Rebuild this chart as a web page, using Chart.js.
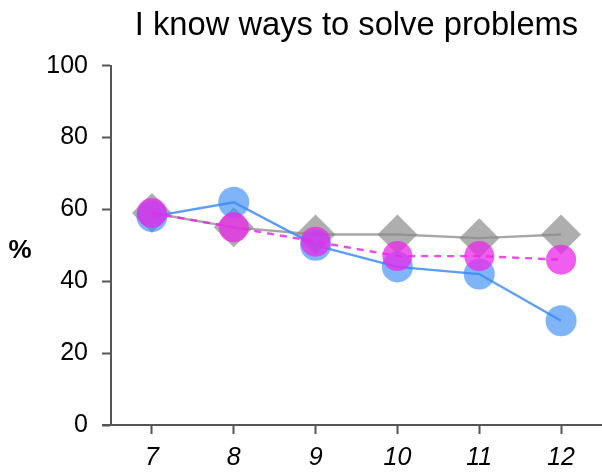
<!DOCTYPE html>
<html>
<head>
<meta charset="utf-8">
<script src="https://cdn.jsdelivr.net/npm/chart.js@4/dist/chart.umd.min.js"></script>
<style>
  html, body { margin: 0; padding: 0; background: #fff; overflow: hidden; }
  #wrap { width: 602px; height: 472px; position: relative; }
  canvas { display: block; }
</style>
</head>
<body>
<div id="wrap"><canvas id="c"></canvas></div>
<script>
const categories = ['7', '8', '9', '10', '11', '12'];
const blueValues = [58, 62, 50, 44, 42, 29];
const greyValues = [59, 55, 53, 53, 52, 53];
const magentaValues = [59, 55, 51, 47, 47, 46];
const yTicks = [0, 20, 40, 60, 80, 100];
const chartTitle = 'I know ways to solve problems';
const yLabel = '%';

const FONT = '"Liberation Sans", Arial, Helvetica, sans-serif';
const AXIS = '#555555';

const extras = {
  id: 'extras',
  afterDraw(chart) {
    const ctx = chart.ctx;
    const a = chart.chartArea;
    ctx.save();
    ctx.strokeStyle = AXIS;
    ctx.lineWidth = 2;
    ctx.beginPath();
    ctx.moveTo(a.left - 9, a.bottom);
    ctx.lineTo(a.left, a.bottom);
    ctx.stroke();
    ctx.fillStyle = '#000';
    ctx.font = 'bold 26px ' + FONT;
    ctx.textAlign = 'center';
    ctx.textBaseline = 'middle';
    ctx.fillText(yLabel, 20, 251);
    ctx.restore();
  }
};

new Chart(document.getElementById('c'), {
  type: 'line',
  data: {
    labels: categories,
    datasets: [
      {
        label: 'magenta',
        data: magentaValues,
        order: 0,
        borderColor: 'rgba(235,40,235,0.85)',
        borderWidth: 2.4,
        borderDash: [7, 6],
        backgroundColor: 'rgba(235,40,235,0.75)',
        pointBackgroundColor: 'rgba(235,40,235,0.75)',
        pointBorderWidth: 0,
        pointRadius: 15,
        pointStyle: 'circle',
        tension: 0,
        fill: false,
        clip: false
      },
      {
        label: 'blue',
        data: blueValues,
        order: 1,
        borderColor: 'rgba(60,140,245,0.85)',
        borderWidth: 2.4,
        backgroundColor: 'rgba(60,140,245,0.65)',
        pointBackgroundColor: 'rgba(60,140,245,0.65)',
        pointBorderWidth: 0,
        pointRadius: 15.5,
        pointStyle: 'circle',
        tension: 0,
        fill: false,
        clip: false
      },
      {
        label: 'grey',
        data: greyValues,
        order: 2,
        borderColor: 'rgba(150,150,150,0.85)',
        borderWidth: 2.4,
        backgroundColor: 'rgba(140,140,140,0.7)',
        pointBackgroundColor: 'rgba(140,140,140,0.7)',
        pointBorderWidth: 0,
        pointRadius: 20,
        pointStyle: 'rectRot',
        tension: 0,
        fill: false,
        clip: false
      }
    ]
  },
  options: {
    responsive: true,
    maintainAspectRatio: false,
    animation: false,
    layout: { autoPadding: false, padding: { left: 0, right: -2, top: 0, bottom: 0 } },
    plugins: {
      legend: { display: false },
      tooltip: { enabled: false },
      title: {
        display: true,
        text: chartTitle,
        fullSize: false,
        color: '#000',
        font: { family: FONT, size: 32.7, weight: 'normal', lineHeight: 1.2 },
        padding: { top: 6, bottom: 20.4 }
      }
    },
    scales: {
      x: {
        type: 'category',
        offset: true,
        afterFit(scale) { scale.height = 47; },
        grid: {
          drawOnChartArea: false,
          drawTicks: true,
          tickLength: 9,
          tickWidth: 2,
          tickColor: AXIS,
          offset: false
        },
        border: { display: true, color: AXIS, width: 2 },
        ticks: {
          color: '#000',
          padding: 9,
          font: { family: FONT, size: 25, style: 'italic' },
          maxRotation: 0
        }
      },
      y: {
        min: 0,
        max: 100,
        afterFit(scale) { scale.width = 111; },
        afterBuildTicks(scale) { scale.ticks = yTicks.map(v => ({ value: v })); },
        grid: {
          drawOnChartArea: false,
          drawTicks: true,
          tickLength: 9,
          tickWidth: 2,
          tickColor: AXIS
        },
        border: { display: true, color: AXIS, width: 2 },
        ticks: {
          color: '#000',
          padding: 14,
          font: { family: FONT, size: 25 }
        }
      }
    }
  },
  plugins: [extras]
});
</script>
</body>
</html>
